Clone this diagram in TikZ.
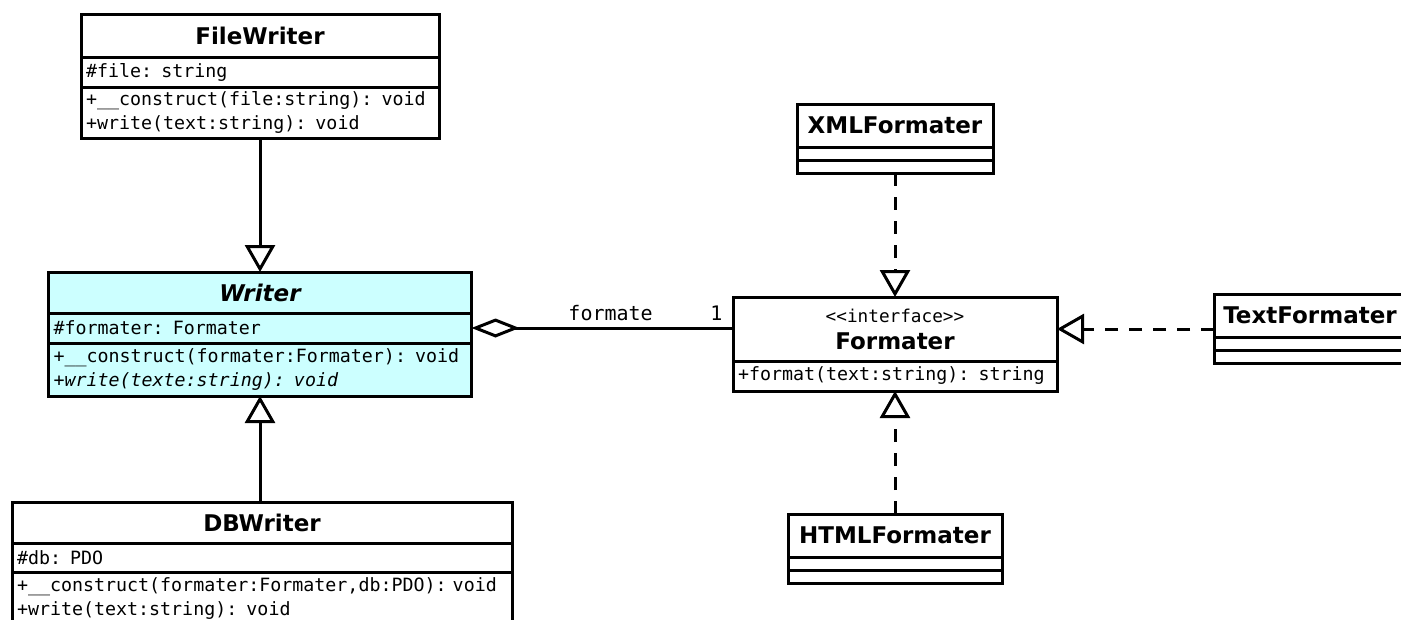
\documentclass[tikz,border=0pt]{standalone}
\usepackage{fontspec}
\setmainfont{DejaVu Sans}
\setmonofont{DejaVu Sans Mono}
\usetikzlibrary{arrows.meta,positioning}
\definecolor{abstractcyan}{RGB}{204,255,255}

\begin{document}
\begin{tikzpicture}[
    x=1pt, y=-1pt,
    node distance=0pt,
    box/.style={draw, line width=3pt, inner sep=0pt, outer sep=0pt, fill=white},
    classname/.style={box, font=\fontsize{23}{27}\selectfont\bfseries},
    members/.style={box, text width=#1, inner xsep=5pt, align=left,
                    font=\fontsize{18.3}{24}\selectfont\ttfamily},
    inherit/.style={line width=3pt, line join=miter,
                    -{Triangle[open, length=27pt, width=30pt]}},
    realize/.style={inherit, dash pattern=on 13pt off 11pt},
    aggr/.style={line width=3pt, line join=miter,
                 {Diamond[open, length=48pt, width=19pt]}-},
    assoc/.style={font=\fontsize{20}{24}\selectfont\ttfamily, inner sep=0pt},
]
    \useasboundingbox (0,0) rectangle (1401,619);
    \clip (0,0) rectangle (1401,619);

    % writers
    \node[classname, minimum width=358pt, minimum height=43pt] (fwt) at (260,35.5) {FileWriter};
    \node[members=348pt, minimum height=30pt, below=of fwt] (fwa) {\#file: string};
    \node[members=348pt, minimum height=51pt, below=of fwa] (fwo)
        {+\_\_construct(file:string): void\\+write(text:string): void};

    \node[classname, fill=abstractcyan, minimum width=423pt, minimum height=41pt] (wt) at (260,292.5) {\itshape Writer};
    \node[members=413pt, fill=abstractcyan, minimum height=30pt, below=of wt] (wa) {\#formater: Formater};
    \node[members=413pt, fill=abstractcyan, minimum height=53pt, below=of wa] (wo)
        {+\_\_construct(formater:Formater): void\\\itshape +write(texte:string): void};

    \node[classname, minimum width=500pt, minimum height=41pt] (dbt) at (262,522.5) {DBWriter};
    \node[members=490pt, minimum height=29pt, below=of dbt] (dba) {\#db: PDO};
    \node[members=490pt, minimum height=53pt, below=of dba] (dbo)
        {+\_\_construct(formater:Formater,db:PDO): void\\+write(text:string): void};

    % formaters
    \node[classname, minimum width=324pt, minimum height=64pt, align=center] (fmt) at (895,329)
        {{\fontsize{17.7}{17.7}\selectfont\ttfamily\mdseries <<interface>>}\\Formater};
    \node[members=314pt, minimum height=30pt, below=of fmt] (fmo) {+format(text:string): string};

    \node[classname, minimum width=196pt, minimum height=43pt] (xmlt) at (895,125.5) {XMLFormater};
    \node[box, minimum width=196pt, minimum height=13pt, below=of xmlt] (xmla) {};
    \node[box, minimum width=196pt, minimum height=13pt, below=of xmla] (xmlo) {};

    \node[classname, minimum width=214pt, minimum height=43pt] (htmlt) at (895,535.5) {HTMLFormater};
    \node[box, minimum width=214pt, minimum height=13pt, below=of htmlt] (htmla) {};
    \node[box, minimum width=214pt, minimum height=13pt, below=of htmla] (htmlo) {};

    \node[classname, minimum width=192pt, minimum height=43pt] (txtt) at (1310,315.5) {TextFormater};
    \node[box, minimum width=192pt, minimum height=13pt, below=of txtt] (txta) {};
    \node[box, minimum width=192pt, minimum height=13pt, below=of txta] (txto) {};

    % relations
    \draw[inherit] (fwo.south) -- (wt.north);
    \draw[inherit] (dbt.north -| wo.south) -- (wo.south);
    \draw[aggr] (wa.east) -- (wa.east -| fmt.west)
        node[assoc, pos=0.532, above=6pt] {formate}
        node[assoc, pos=1, above left=6pt and 9pt] {1};
    \draw[realize] (xmlo.south) -- (fmt.north);
    \draw[realize] (htmlt.north) -- (fmo.south);
    \draw[realize] (fmt.east -| txtt.west) -- (fmt.east);
\end{tikzpicture}
\end{document}
